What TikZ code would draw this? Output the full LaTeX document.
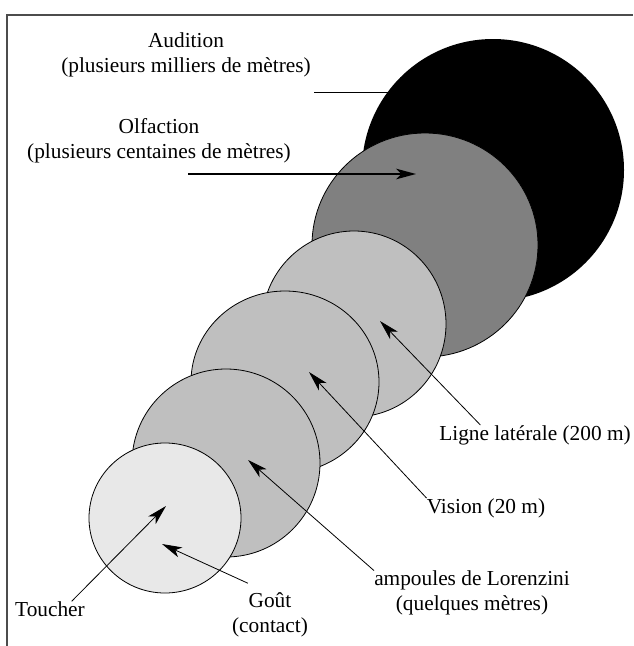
\documentclass[tikz,border=0pt]{standalone}
\usepackage{fontspec}
\setmainfont{Liberation Serif}
\usetikzlibrary{arrows.meta,calc}

\begin{document}
\begin{tikzpicture}[x=0.75pt,y=-0.75pt,
    sens/.style={inner sep=0pt,align=center,font=\fontsize{16}{18.75}\selectfont},
    pointer/.style={line width=0.6pt,-{Stealth[length=15pt,width=8pt,inset=4pt]}},
    zone/.style={draw=black,line width=0.6pt}]
    \useasboundingbox (0,0) rectangle (633,646);

    % Cadre
    \draw[line width=1.2pt,black!70] (7,646) -- (7,15) -- (633,15);

    % Zones de perception
    \fill[black] (493,170) ellipse (131 and 131);
    \draw[zone,fill=black!50] (425,245) ellipse (113 and 112);
    \draw[zone,fill=black!25] (354,324) ellipse (92 and 93);
    \draw[zone,fill=black!25] (285,382) ellipse (94 and 91);
    \draw[zone,fill=black!25] (226,463) ellipse (94 and 94);
    \draw[zone,fill=black!9] (165,518) ellipse (76 and 75);

    \coordinate (audA) at (314,92);
    \coordinate (audB) at (388,92);
    \coordinate (olfA) at (188,174);
    \coordinate (olfB) at (416,174);
    \coordinate (ligneT) at (380,321);
    \coordinate (visionT) at (309,372);
    \coordinate (lorenziniT) at (248,460);
    \coordinate (toucherT) at (166,506);
    \coordinate (goutT) at (162,544);

    \node[sens] (audition) at (186,55) {Audition\\(plusieurs milliers de mètres)};
    \node[sens] (olfaction) at (159,141) {Olfaction\\(plusieurs centaines de mètres)};
    \node[sens] (ligne) at (535,435) {Ligne latérale (200 m)};
    \node[sens] (vision) at (486,508) {Vision (20 m)};
    \node[sens] (lorenzini) at (472,593) {ampoules de Lorenzini\\(quelques mètres)};
    \node[sens] (toucher) at (50,609) {Toucher};
    \node[sens] (gout) at (270,615) {Goût\\(contact)};

    % Traits et fleches
    \draw[line width=0.6pt] (audA) -- (audB);
    \draw[pointer,line width=1.2pt] (olfA) -- (olfB);
    \draw[pointer] ([xshift=31pt]ligne.north west) -- (ligneT);
    \draw[pointer] (vision.north west) -- (visionT);
    \draw[pointer] (lorenzini.north west) -- (lorenziniT);
    \draw[pointer] ([xshift=-10pt]toucher.north east) -- (toucherT);
    \draw[pointer] ([xshift=12pt,yshift=7pt]gout.north west) -- (goutT);
\end{tikzpicture}
\end{document}
